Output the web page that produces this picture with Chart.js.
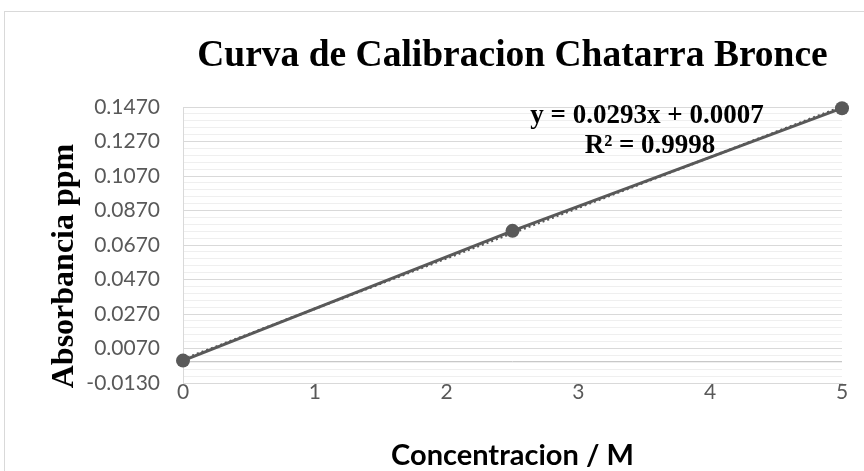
<!DOCTYPE html>
<html><head><meta charset="utf-8">
<script src="https://cdn.jsdelivr.net/npm/chart.js@4"></script>
<style>
html,body{margin:0;padding:0;background:#fff;overflow:hidden;width:864px;height:471px}
#frame{position:absolute;left:4px;top:11px;width:900px;height:500px;border:1px solid #d9d9d9}
#c{position:absolute;left:0;top:0}
</style></head><body>
<div id="frame"></div>
<canvas id="c" width="864" height="471"></canvas>
<script>
const chartTitle = 'Curva de Calibracion Chatarra Bronce';
const xAxisTitle = 'Concentracion / M';
const yAxisTitle = 'Absorbancia ppm';
const equationLines = ['y = 0.0293x + 0.0007', 'R² = 0.9998'];
const concentrations = [0, 2.5, 5];
const absorbances = [0.0000, 0.0752, 0.1463];
const trendX = [0, 5];
const trendY = [0.0007, 0.1472];
const yMin = -0.013, yMax = 0.147, yMinorStep = 0.004, yMajorEvery = 5;
const xMin = 0, xMax = 5, xStep = 1;

const GRAY = '#595959';

const extras = {
  id: 'extras',
  beforeDatasetsDraw(chart) {
    const {ctx, chartArea} = chart;
    const y0 = Math.round(chart.scales.y.getPixelForValue(0)) + 0.5;
    ctx.save();
    ctx.strokeStyle = '#c8c8c8';
    ctx.lineWidth = 1;
    ctx.beginPath();
    ctx.moveTo(chartArea.left, y0);
    ctx.lineTo(chartArea.right, y0);
    ctx.stroke();
    ctx.restore();
  },
  afterDraw(chart) {
    const {ctx, chartArea} = chart;
    ctx.save();
    ctx.font = 'bold 32px "Liberation Serif"';
    ctx.fillStyle = '#000';
    ctx.textAlign = 'center';
    ctx.textBaseline = 'alphabetic';
    ctx.translate(chartArea.left - 110, (chartArea.top + chartArea.bottom) / 2 + 21);
    ctx.rotate(-Math.PI / 2);
    ctx.fillText(yAxisTitle, 0, 0);
    ctx.restore();
    ctx.save();
    ctx.font = 'bold 27px "Liberation Serif"';
    ctx.fillStyle = '#000';
    ctx.textAlign = 'center';
    ctx.textBaseline = 'alphabetic';
    ctx.fillText(equationLines[0], 647, chartArea.top + 16);
    ctx.fillText(equationLines[1], 650, chartArea.top + 46);
    ctx.restore();
  }
};

new Chart(document.getElementById('c'), {
  type: 'scatter',
  data: {
    datasets: [
      {
        label: 'Absorbancia',
        data: concentrations.map((x, i) => ({x, y: absorbances[i]})),
        showLine: true,
        clip: false,
        borderColor: GRAY,
        borderWidth: 3,
        backgroundColor: GRAY,
        pointRadius: 7,
        pointBorderWidth: 0,
        pointBackgroundColor: GRAY,
        order: 1
      },
      {
        label: 'Tendencia',
        data: trendX.map((x, i) => ({x, y: trendY[i]})),
        showLine: true,
        clip: false,
        borderColor: GRAY,
        borderWidth: 2.5,
        borderDash: [2, 3],
        pointRadius: 0,
        order: 2
      }
    ]
  },
  options: {
    responsive: false,
    animation: false,
    layout: {padding: {left: 0, right: 22, top: 0, bottom: 0}},
    plugins: {
      legend: {display: false},
      tooltip: {enabled: false},
      title: {
        display: true,
        text: chartTitle,
        fullSize: false,
        color: '#000',
        font: {family: 'Liberation Serif', size: 37.5, weight: 'bold', lineHeight: 1.2},
        padding: {top: 34, bottom: 28}
      }
    },
    scales: {
      x: {
        type: 'linear',
        min: xMin, max: xMax,
        afterFit(s) { s.height = 88; },
        grid: {display: false},
        border: {display: true, color: '#d9d9d9'},
        ticks: {
          stepSize: xStep,
          color: GRAY,
          font: {family: 'Lato', size: 21, lineHeight: 1},
          padding: -9,
          maxRotation: 0,
          callback: v => String(v)
        },
        title: {
          display: true,
          text: xAxisTitle,
          color: '#000',
          font: {family: 'Lato', size: 29, weight: 'bold', lineHeight: 1},
          padding: {top: 0, bottom: 1}
        }
      },
      y: {
        type: 'linear',
        min: yMin, max: yMax,
        afterFit(s) { s.width = 183; },
        grid: {
          drawTicks: false,
          color: c => (c.index % yMajorEvery === 0 ? '#d9d9d9' : '#efefef'),
          lineWidth: 1
        },
        border: {display: true, color: '#d9d9d9'},
        ticks: {
          stepSize: yMinorStep,
          autoSkip: false,
          color: GRAY,
          font: {family: 'Lato', size: 21, lineHeight: 1},
          padding: 23,
          callback: (v, i) => (i % yMajorEvery === 0 ? Number(v).toFixed(4) : '')
        }
      }
    }
  },
  plugins: [extras]
});
</script>
</body></html>
